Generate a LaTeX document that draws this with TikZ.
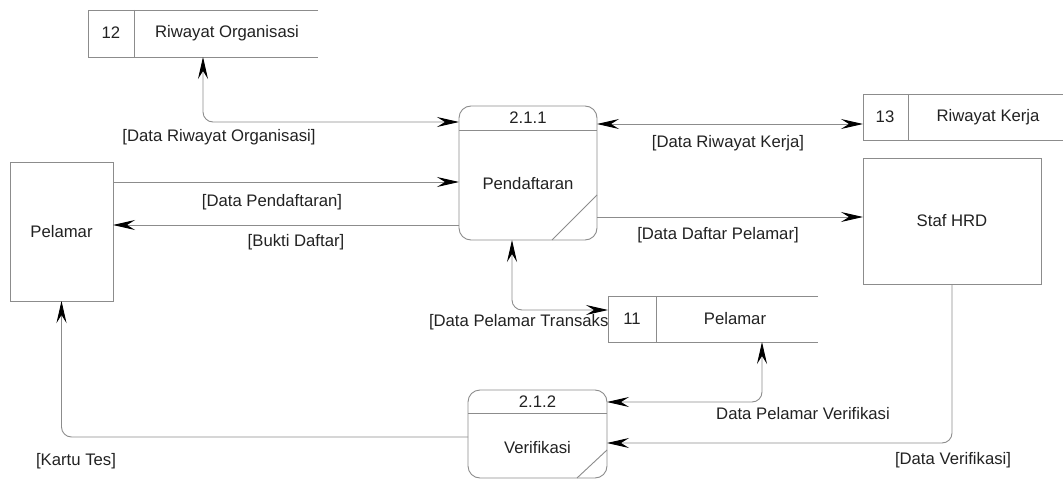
\documentclass[tikz,border=0pt]{standalone}
\usepackage{fontspec}
\setmainfont{Liberation Sans}
\usetikzlibrary{arrows.meta,calc}
\definecolor{linegray}{HTML}{8C8C8C}
\definecolor{inkgray}{HTML}{222222}
\tikzset{
  tipflow/.tip={Stealth[length=22pt,width=10pt,inset=8pt,color=black,fill=black]}
}
\begin{document}
\begin{tikzpicture}[x=1pt,y=-1pt,
  every node/.style={inner sep=0pt,outer sep=0pt,text=inkgray,font=\fontsize{16.7}{20}\selectfont},
  entity/.style={draw=linegray,line width=0.9pt,fill=white},
  proc/.style={draw=linegray,line width=0.9pt,fill=white,rounded corners=12pt},
  storebox/.style={fill=white},
  storeline/.style={draw=linegray,line width=0.9pt},
  flow/.style={draw=linegray,line width=0.9pt,rounded corners=10pt},
  oneway/.style={flow,-tipflow},
  twoway/.style={flow,tipflow-tipflow},
  lbl/.style={}
]
\useasboundingbox (0,0) rectangle (1063,481);

% label partly covered by the data store drawn afterwards
\node[lbl,anchor=west] (lTrans) at (429,322) {[Data Pelamar Transaksi]};

% external entities
\node[entity,minimum width=103pt,minimum height=139pt] (pel) at (61.5,231.5) {Pelamar};
\node[entity,minimum width=178pt,minimum height=126pt] (hrd) at (952,221) {Staf HRD};

% processes
\node[proc,minimum width=138pt,minimum height=134pt] (p1) at (528,173) {};
\draw[storeline] ([yshift=-24pt]p1.north west) -- ([yshift=-24pt]p1.north east);
\draw[storeline] ([yshift=45pt]p1.south east) -- ([xshift=-45pt]p1.south east);
\node (p1id) at (528,118) {2.1.1};
\node (p1name) at (528,184) {Pendaftaran};

\node[proc,minimum width=139pt,minimum height=88pt] (p2) at (537.5,434) {};
\draw[storeline] ([yshift=-23pt]p2.north west) -- ([yshift=-23pt]p2.north east);
\draw[storeline] ([yshift=28pt]p2.south east) -- ([xshift=-30pt]p2.south east);
\node (p2id) at (537.5,402) {2.1.2};
\node (p2name) at (537.5,448) {Verifikasi};

% data stores
\node[storebox,minimum width=230pt,minimum height=47pt] (s12) at (203,33.5) {};
\draw[storeline] (s12.north east) -- (s12.north west) -- (s12.south west) -- (s12.south east);
\draw[storeline] ([xshift=46pt]s12.north west) -- ([xshift=46pt]s12.south west);
\node (s12id) at (111,33) {12};
\node (s12name) at (227,33) {Riwayat Organisasi};

\node[storebox,minimum width=200pt,minimum height=46pt] (s13) at (963,117) {};
\draw[storeline] (s13.north east) -- (s13.north west) -- (s13.south west) -- (s13.south east);
\draw[storeline] ([xshift=45pt]s13.north west) -- ([xshift=45pt]s13.south west);
\node (s13id) at (885,117) {13};
\node (s13name) at (988,117) {Riwayat Kerja};

\node[storebox,minimum width=210pt,minimum height=46pt] (s11) at (713,319) {};
\draw[storeline] (s11.north east) -- (s11.north west) -- (s11.south west) -- (s11.south east);
\draw[storeline] ([xshift=48pt]s11.north west) -- ([xshift=48pt]s11.south west);
\node (s11id) at (632,319) {11};
\node (s11name) at (735,319) {Pelamar};

% data flows
\draw[twoway] (s12.south) |- ([yshift=51pt]p1.west);
\draw[twoway] ([yshift=49pt]p1.east) -- ([yshift=49pt]p1.east -| s13.west);
\draw[oneway] ([yshift=49.5pt]pel.east) -- ([yshift=49.5pt]pel.east -| p1.west);
\draw[oneway] ([yshift=-52pt]p1.west) -- ([yshift=-52pt]p1.west -| pel.east);
\draw[oneway] ([yshift=-44pt]p1.east) -- ([yshift=-44pt]p1.east -| hrd.west);
\draw[twoway] ([xshift=-16pt]p1.south) |- ([yshift=9pt]s11.west);
\draw[twoway] ([xshift=49pt]s11.south) |- ([yshift=32pt]p2.east);
\draw[oneway] (hrd.south) |- ([yshift=-9pt]p2.east);
\draw[oneway] ([yshift=-3pt]p2.west) -| (pel.south);

% flow labels
\node[lbl] (lOrg) at (219,137) {[Data Riwayat Organisasi]};
\node[lbl] (lDaftar) at (272,202) {[Data Pendaftaran]};
\node[lbl] (lBukti) at (296,242) {[Bukti Daftar]};
\node[lbl] (lKerja) at (728,143) {[Data Riwayat Kerja]};
\node[lbl] (lList) at (718,235) {[Data Daftar Pelamar]};
\node[lbl] (lVerData) at (803,414) {Data Pelamar Verifikasi};
\node[lbl] (lVer) at (953,460) {[Data Verifikasi]};
\node[lbl] (lKartu) at (76,461) {[Kartu Tes]};
\end{tikzpicture}
\end{document}
